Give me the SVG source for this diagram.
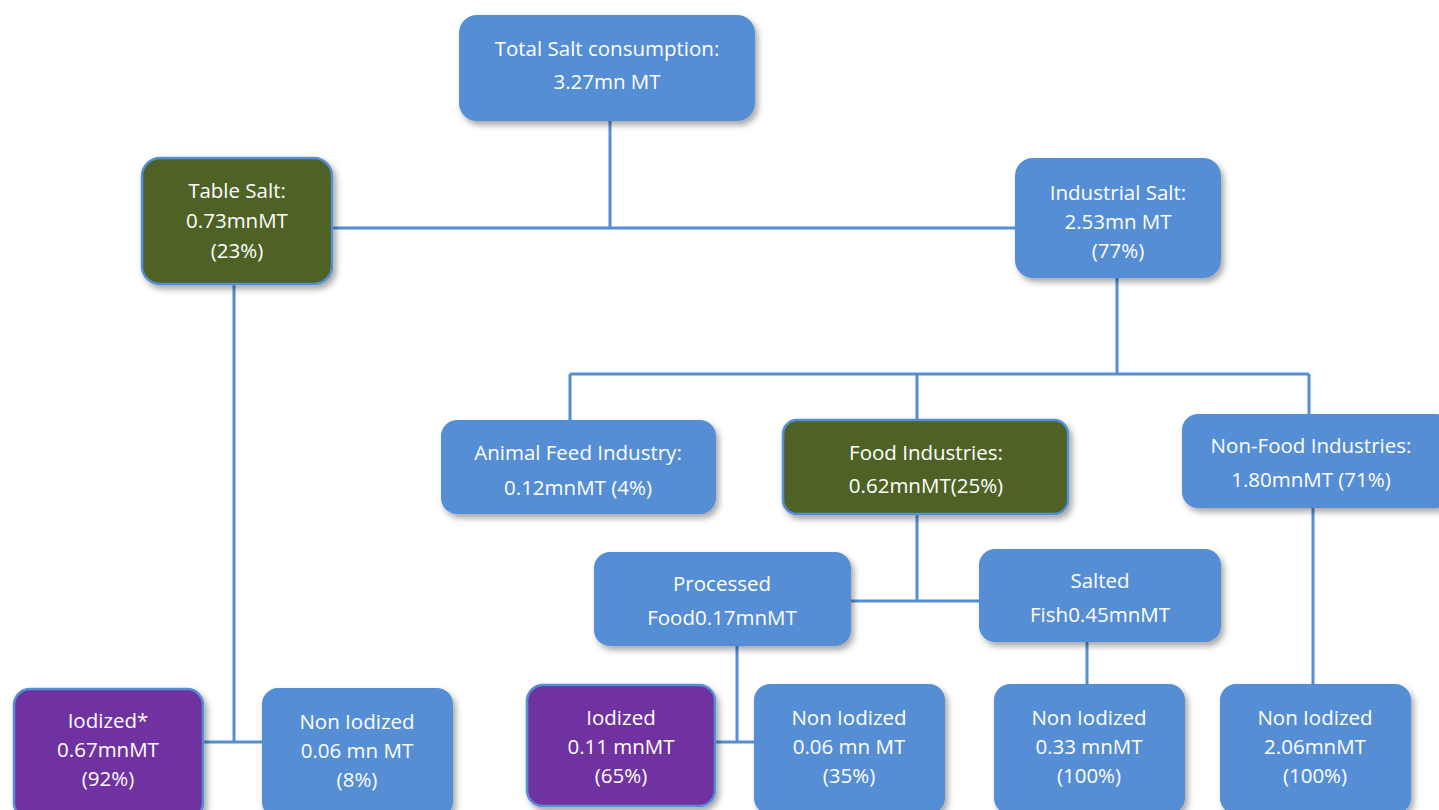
<svg xmlns="http://www.w3.org/2000/svg" width="1439" height="810" viewBox="0 0 1439 810">
<defs>
<filter id="sh" x="-10%" y="-10%" width="130%" height="140%">
<feDropShadow dx="3" dy="4" stdDeviation="3" flood-color="#000" flood-opacity="0.35"/>
</filter>
<style>
.b{fill:#558ED5;filter:url(#sh)}
.g{fill:#4F6228;stroke:#558ED5;stroke-width:2.5;filter:url(#sh)}
.p{fill:#7030A0;stroke:#558ED5;stroke-width:2.5;filter:url(#sh)}
text{font-family:"Open Sans","Liberation Sans",sans-serif;font-size:20.5px;fill:#fff;text-anchor:middle;dominant-baseline:central}
.c{stroke:#558ED5;stroke-width:3;fill:none}
</style>
</defs>
<rect width="1439" height="810" fill="#fff"/>
<g id="connectors">
<path class="c" d="M610 121V228M332 228H1015"/>
<path class="c" d="M234 284V742M204 742H262"/>
<path class="c" d="M1117 278V374M570 374H1309M570 374V420M917 374V420M1309 374V414"/>
<path class="c" d="M917 514V601M851 601H979"/>
<path class="c" d="M737 646V742M715 742H755"/>
<path class="c" d="M1087 642V684"/>
<path class="c" d="M1313 508V684"/>
</g>
<g id="total"><rect class="b" x="459" y="15" width="296" height="106" rx="18"/>
<text x="607" y="48">Total Salt consumption:</text><text x="607" y="81">3.27mn MT</text></g>
<g id="table-salt"><rect class="g" x="142" y="158" width="190" height="126" rx="18"/>
<text x="237" y="190">Table Salt:</text><text x="237" y="220">0.73mnMT</text><text x="237" y="250">(23%)</text></g>
<g id="industrial-salt"><rect class="b" x="1015" y="158" width="206" height="120" rx="18"/>
<text x="1118" y="192">Industrial Salt:</text><text x="1118" y="221">2.53mn MT</text><text x="1118" y="250">(77%)</text></g>
<g id="animal-feed"><rect class="b" x="441" y="420" width="275" height="94" rx="16"/>
<text x="578" y="452">Animal Feed Industry:</text><text x="578" y="487">0.12mnMT (4%)</text></g>
<g id="food-industries"><rect class="g" x="783" y="420" width="285" height="94" rx="14"/>
<text x="926" y="452">Food Industries:</text><text x="926" y="485">0.62mnMT(25%)</text></g>
<g id="non-food"><rect class="b" x="1182" y="414" width="270" height="94" rx="16"/>
<text x="1311" y="445">Non-Food Industries:</text><text x="1311" y="479">1.80mnMT (71%)</text></g>
<g id="processed"><rect class="b" x="594" y="552" width="257" height="94" rx="16"/>
<text x="722" y="583">Processed</text><text x="722" y="617">Food0.17mnMT</text></g>
<g id="salted"><rect class="b" x="979" y="549" width="242" height="93" rx="16"/>
<text x="1100" y="580">Salted</text><text x="1100" y="614">Fish0.45mnMT</text></g>
<g id="iodized-table"><rect class="p" x="14" y="689" width="189" height="130" rx="16"/>
<text x="108" y="720">Iodized*</text><text x="108" y="749">0.67mnMT</text><text x="108" y="778">(92%)</text></g>
<g id="non-iodized-table"><rect class="b" x="262" y="688" width="191" height="130" rx="16"/>
<text x="357" y="721">Non Iodized</text><text x="357" y="750">0.06 mn MT</text><text x="357" y="779">(8%)</text></g>
<g id="iodized-processed"><rect class="p" x="527" y="685" width="188" height="121" rx="16"/>
<text x="621" y="717">Iodized</text><text x="621" y="746">0.11 mnMT</text><text x="621" y="775">(65%)</text></g>
<g id="non-iodized-processed"><rect class="b" x="754" y="684" width="191" height="130" rx="16"/>
<text x="849" y="717">Non Iodized</text><text x="849" y="746">0.06 mn MT</text><text x="849" y="775">(35%)</text></g>
<g id="non-iodized-fish"><rect class="b" x="994" y="684" width="191" height="130" rx="16"/>
<text x="1089" y="717">Non Iodized</text><text x="1089" y="746">0.33 mnMT</text><text x="1089" y="775">(100%)</text></g>
<g id="non-iodized-nonfood"><rect class="b" x="1220" y="684" width="191" height="130" rx="16"/>
<text x="1315" y="717">Non Iodized</text><text x="1315" y="746">2.06mnMT</text><text x="1315" y="775">(100%)</text></g>
</svg>
